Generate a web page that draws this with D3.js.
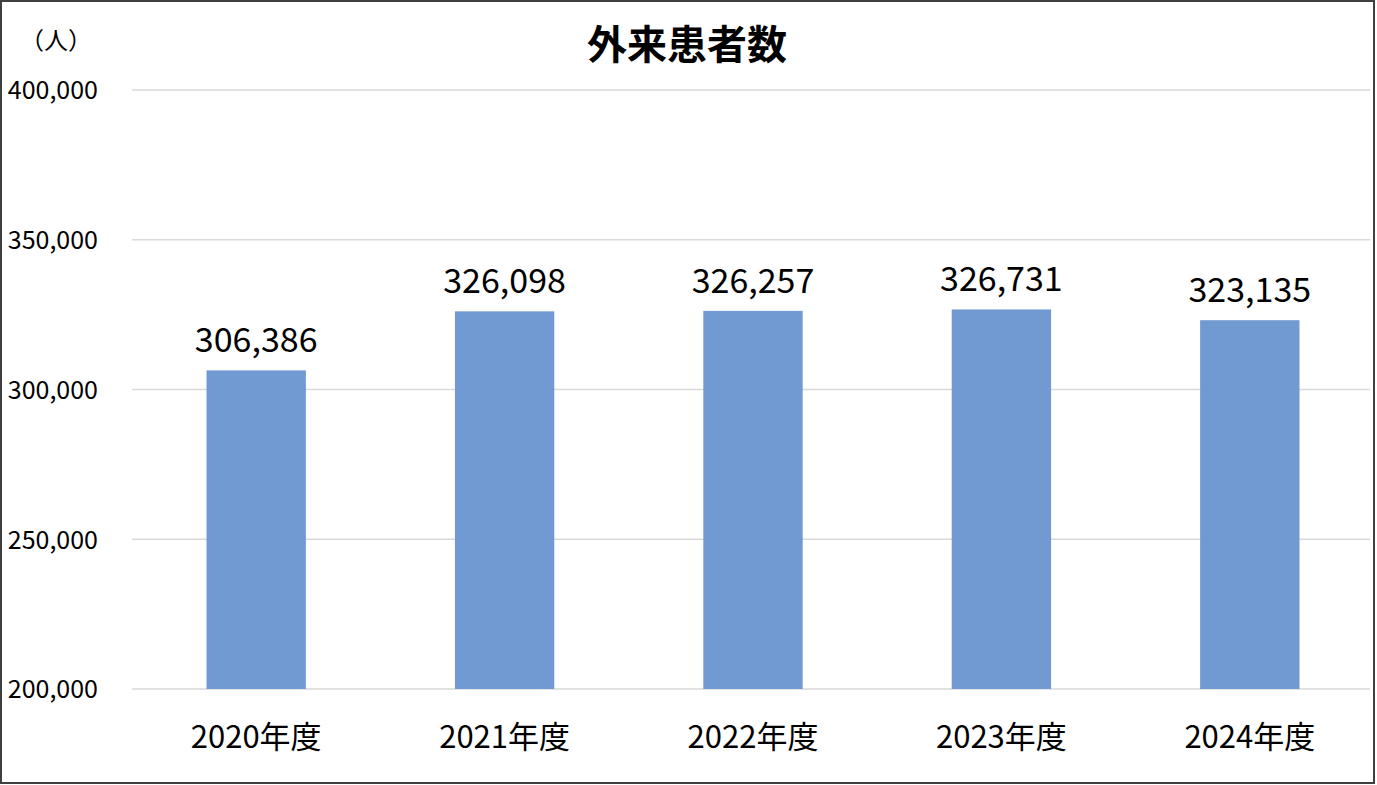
<!DOCTYPE html>
<html>
<head>
<meta charset="utf-8">
<script src="https://cdn.jsdelivr.net/npm/d3@7"></script>
<style>
  body { margin: 0; background: #fff; }
  text { font-family: "Noto Sans CJK JP", "Noto Sans", sans-serif; fill: #000; }
</style>
</head>
<body>
<script>
var w = 1377;
var h = 785;

var years = ["2020年度", "2021年度", "2022年度", "2023年度", "2024年度"];
var patients = [306386, 326098, 326257, 326731, 323135];
var yTicks = [200000, 250000, 300000, 350000, 400000];

var svg = d3.select("body")
    .append("svg")
    .attr("width", w)
    .attr("height", h);

// frame
svg.append("rect")
    .attr("x", 1)
    .attr("y", 1)
    .attr("width", w - 4)
    .attr("height", h - 3)
    .attr("fill", "#fff")
    .attr("stroke", "#404040")
    .attr("stroke-width", 2);

var xScale = d3.scaleBand()
    .domain(years)
    .range([132, 1374])
    .paddingInner(0.6)
    .paddingOuter(0.3);

var yScale = d3.scaleLinear()
    .domain([200000, 400000])
    .range([689, 90]);

//gridlines
svg.append("g")
    .selectAll("line")
    .data(yTicks)
    .enter()
    .append("line")
    .attr("x1", 132)
    .attr("x2", 1370)
    .attr("y1", d => yScale(d))
    .attr("y2", d => yScale(d))
    .attr("stroke", "#d9d9d9")
    .attr("stroke-width", 1.3);

//y axis
var yAxis = d3.axisLeft(yScale)
    .tickValues(yTicks)
    .tickFormat(d3.format(","))
    .tickSize(0)
    .tickPadding(0);

var yg = svg.append("g")
    .attr("transform", "translate(98,0)")
    .call(yAxis);
yg.select(".domain").remove();
yg.selectAll("text")
    .style("font-size", "25px")
    .attr("dy", "0.35em");

//bars
var data = years.map((y, i) => ({year: y, value: patients[i]}));

svg.selectAll("rect.bar")
    .data(data)
    .enter()
    .append("rect")
    .attr("class", "bar")
    .attr("x", d => xScale(d.year))
    .attr("width", xScale.bandwidth())
    .attr("y", d => yScale(d.value))
    .attr("height", d => yScale(200000) - yScale(d.value))
    .attr("fill", "#729ad2");

//value labels
svg.selectAll("text.val")
    .data(data)
    .enter()
    .append("text")
    .attr("class", "val")
    .attr("x", d => xScale(d.year) + xScale.bandwidth() / 2)
    .attr("y", d => yScale(d.value) - 18)
    .attr("text-anchor", "middle")
    .style("font-size", "34px")
    .text(d => d3.format(",")(d.value));

//x axis
var xAxis = d3.axisBottom(xScale).tickSize(0).tickPadding(0);
var xg = svg.append("g")
    .attr("transform", "translate(0,689)")
    .call(xAxis);
xg.select(".domain").remove();
xg.selectAll("text")
    .attr("dy", "0")
    .attr("y", 59)
    .style("font-size", "31px");

//title & unit
svg.append("text")
    .attr("x", 687)
    .attr("y", 59)
    .attr("text-anchor", "middle")
    .style("font-size", "40px")
    .style("font-weight", "bold")
    .text("外来患者数");

svg.append("text")
    .attr("x", 20)
    .attr("y", 49)
    .style("font-size", "24px")
    .text("（人）");
</script>
</body>
</html>
